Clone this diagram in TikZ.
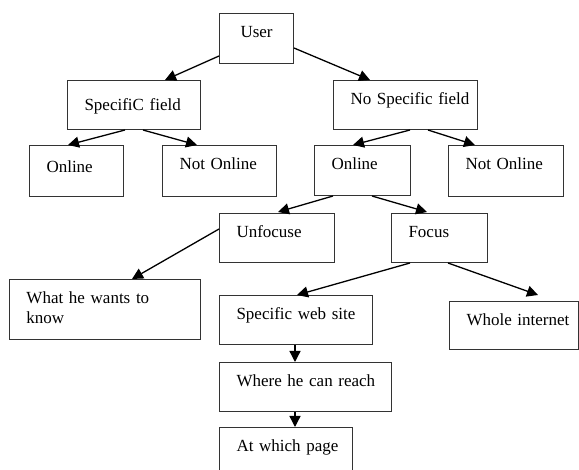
\documentclass[tikz,border=0pt]{standalone}
\usepackage{fontspec}
\setmainfont{Liberation Serif}
\usetikzlibrary{arrows.meta}

\tikzset{
  box/.style = {rectangle,
      draw = black!80,
      line width = 1pt,
      anchor = north west,
      align = left,
      inner xsep = 17pt,
      inner ysep = 0pt,
      text height = 24pt,
      execute at begin node = {\hyphenpenalty=10000},
      font = \fontsize{17pt}{20pt}\selectfont},
  arr/.style = {-{Triangle[length=11pt,width=11pt]},
      line width = 1.3pt}
}

\begin{document}
\begin{tikzpicture}[x=1pt,y=-1pt]
\useasboundingbox (0,0) rectangle (579,470);

% top
  \node[box,
      text width = 40pt,
      text depth = 26pt] (user) at (219,13) {\hspace{4pt}User};

% specific field side
  \node[box,
      text width = 99pt,
      text height = 30pt,
      text depth = 19pt] (sf) at (67,80) {SpecifiC~field};

  \node[box,
      text width = 60pt,
      text height = 27pt,
      text depth = 24pt] (onl) at (29,145) {Online};

  \node[box,
      text width = 80pt,
      text depth = 27pt] (nol) at (162,145) {Not~Online};

% no specific field side
  \node[box,
      text width = 110pt,
      text depth = 25pt] (nsf) at (333,80) {No~Specific~field};

  \node[box,
      text width = 62pt,
      text depth = 26pt] (onm) at (314,145) {Online};

  \node[box,
      text width = 81pt,
      text depth = 27pt] (nor) at (448,145) {Not~Online};

% focus or not
  \node[box,
      text width = 81pt,
      text depth = 25pt] (unf) at (219,213) {Unfocuse};

  \node[box,
      text width = 62pt,
      text depth = 25pt] (focus) at (391,213) {Focus};

  \node[box,
      text width = 157pt,
      text depth = 36pt] (what) at (9,279) {What~he~wants~to\\know};

  \node[box,
      text width = 119pt,
      text depth = 25pt] (sws) at (219,295) {Specific~web~site};

  \node[box,
      text width = 95pt,
      text depth = 24pt] (wi) at (449,301) {Whole~internet};

  \node[box,
      text width = 138pt,
      text depth = 25pt] (where) at (219,362) {Where~he~can~reach};

  \node[box,
      text width = 99pt,
      text depth = 36pt] (page) at (219,427) {At~which~page};

% arrows
\draw[arr] ([yshift=8pt]user.south west) -- ([xshift=98pt]sf.north west);
\draw[arr] ([yshift=16pt]user.south east) -- ([xshift=37pt]nsf.north west);
\draw[arr] ([xshift=58pt]sf.south west) -- ([xshift=39pt]onl.north west);
\draw[arr] ([xshift=76pt]sf.south west) -- ([xshift=35pt]nol.north west);
\draw[arr] ([xshift=77pt]nsf.south west) -- ([xshift=39pt]onm.north west);
\draw[arr] ([xshift=95pt]nsf.south west) -- ([xshift=27pt]nor.north west);
\draw[arr] ([xshift=19pt]onm.south west) -- ([xshift=59pt,yshift=1pt]unf.north west);
\draw[arr] ([xshift=58pt]onm.south west) -- ([xshift=36pt,yshift=1pt]focus.north west);
\draw[arr] ([yshift=-16pt]unf.north west) -- ([xshift=123pt]what.north west);
\draw[arr] ([xshift=19pt]focus.south west) -- ([xshift=78pt]sws.north west);
\draw[arr] ([xshift=57pt]focus.south west) -- ([xshift=89pt,yshift=6pt]wi.north west);
\draw[arr] ([xshift=76pt]sws.south west) -- ([xshift=76pt]where.north west);
\draw[arr] ([xshift=76pt]where.south west) -- ([xshift=76pt]page.north west);

\end{tikzpicture}
\end{document}
